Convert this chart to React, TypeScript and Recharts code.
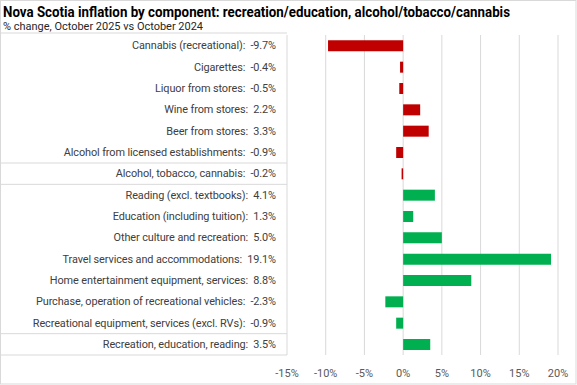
import React from 'react';
import { BarChart, Bar, XAxis, YAxis, CartesianGrid, Cell } from 'recharts';

const categories = [
  'Cannabis (recreational)',
  'Cigarettes',
  'Liquor from stores',
  'Wine from stores',
  'Beer from stores',
  'Alcohol from licensed establishments',
  'Alcohol, tobacco, cannabis',
  'Reading (excl. textbooks)',
  'Education (including tuition)',
  'Other culture and recreation',
  'Travel services and accommodations',
  'Home entertainment equipment, services',
  'Purchase, operation of recreational vehicles',
  'Recreational equipment, services (excl. RVs)',
  'Recreation, education, reading',
];
const values = [-9.7, -0.4, -0.5, 2.2, 3.3, -0.9, -0.2, 4.1, 1.3, 5.0, 19.1, 8.8, -2.3, -0.9, 3.5];
const groups = ['atc', 'atc', 'atc', 'atc', 'atc', 'atc', 'atc', 'rec', 'rec', 'rec', 'rec', 'rec', 'rec', 'rec', 'rec'];
const xTicks = [-15, -10, -5, 0, 5, 10, 15, 20];
const separatorRows = [5, 6, 13];

const TITLE = 'Nova Scotia inflation by component: recreation/education,  alcohol/tobacco/cannabis';
const SUBTITLE = '% change, October 2025 vs October 2024';

const W = 577;
const H = 385;
const MARGIN = { top: 35, right: 19, left: 0, bottom: 0 };
const X_AXIS_H = 30;
const Y_AXIS_W = 287;
const PLOT_H = H - MARGIN.top - MARGIN.bottom - X_AXIS_H;
const ROW_H = PLOT_H / categories.length;
const FONT = 'Roboto, "DejaVu Sans", sans-serif';

const colorFor: Record<string, string> = { atc: '#c00000', rec: '#00b050' };

const fmt = (v: number) => `${v.toFixed(1)}%`;

const data = categories.map((name, i) => ({ name, value: values[i], group: groups[i] }));

const YTick = (props: any) => {
  const { y, payload, index } = props;
  const i = typeof payload?.index === 'number' ? payload.index : index;
  const label = `${payload.value}:\u00a0 ${fmt(values[i])}`;
  const top = y - ROW_H / 2;
  const bottom = y + ROW_H / 2;
  return (
    <g>
      <text
        x={276}
        y={y}
        textAnchor="end"
        dominantBaseline="central"
        fontFamily={FONT}
        fontSize={10.9}
        letterSpacing={-0.1}
        fill="#404040"
      >
        {label}
      </text>
      {i === 0 && <line x1={0} x2={Y_AXIS_W} y1={top - 2} y2={top - 2} stroke="#d9d9d9" />}
      {(separatorRows.includes(i) || i === categories.length - 1) && (
        <line x1={0} x2={Y_AXIS_W} y1={bottom} y2={bottom} stroke="#d9d9d9" />
      )}
    </g>
  );
};

const XTick = (props: any) => {
  const { x, y, payload } = props;
  return (
    <text
      x={x}
      y={y + 10}
      textAnchor="middle"
      dominantBaseline="central"
      fontFamily={FONT}
      fontSize={11}
      fill="#595959"
    >
      {`${payload.value}%`}
    </text>
  );
};

export default function App() {
  return (
    <div style={{ position: 'absolute', left: 0, top: 0, width: W, height: H, background: '#fff' }}>
      <BarChart
        width={W}
        height={H}
        data={data}
        layout="vertical"
        margin={MARGIN}
        barCategoryGap="25%"
      >
        <CartesianGrid horizontal={false} stroke="#d9d9d9" />
        <XAxis
          type="number"
          domain={[-15, 20]}
          ticks={xTicks}
          height={X_AXIS_H}
          axisLine={false}
          tickLine={false}
          tick={<XTick />}
          interval={0}
        />
        <YAxis
          type="category"
          dataKey="name"
          width={Y_AXIS_W}
          axisLine={false}
          tickLine={false}
          tick={<YTick />}
          interval={0}
        />
        <Bar dataKey="value" isAnimationActive={false}>
          {data.map((d, i) => (
            <Cell key={i} fill={colorFor[d.group]} />
          ))}
        </Bar>
      </BarChart>
      <svg
        width={W}
        height={H}
        style={{ position: 'absolute', left: 0, top: 0, pointerEvents: 'none' }}
      >
        <text
          x={3}
          y={16.5}
          fontFamily={FONT}
          fontWeight="bold"
          fontSize={14}
          textLength={507}
          lengthAdjust="spacingAndGlyphs"
          fill="#000"
        >
          {TITLE}
        </text>
        <text
          x={3}
          y={30}
          fontFamily={FONT}
          fontSize={11}
          textLength={200}
          lengthAdjust="spacingAndGlyphs"
          fill="#262626"
        >
          {SUBTITLE}
        </text>
        <rect x={0.5} y={0.5} width={W - 1.5} height={H - 1.5} fill="none" stroke="#d9d9d9" />
      </svg>
    </div>
  );
}
